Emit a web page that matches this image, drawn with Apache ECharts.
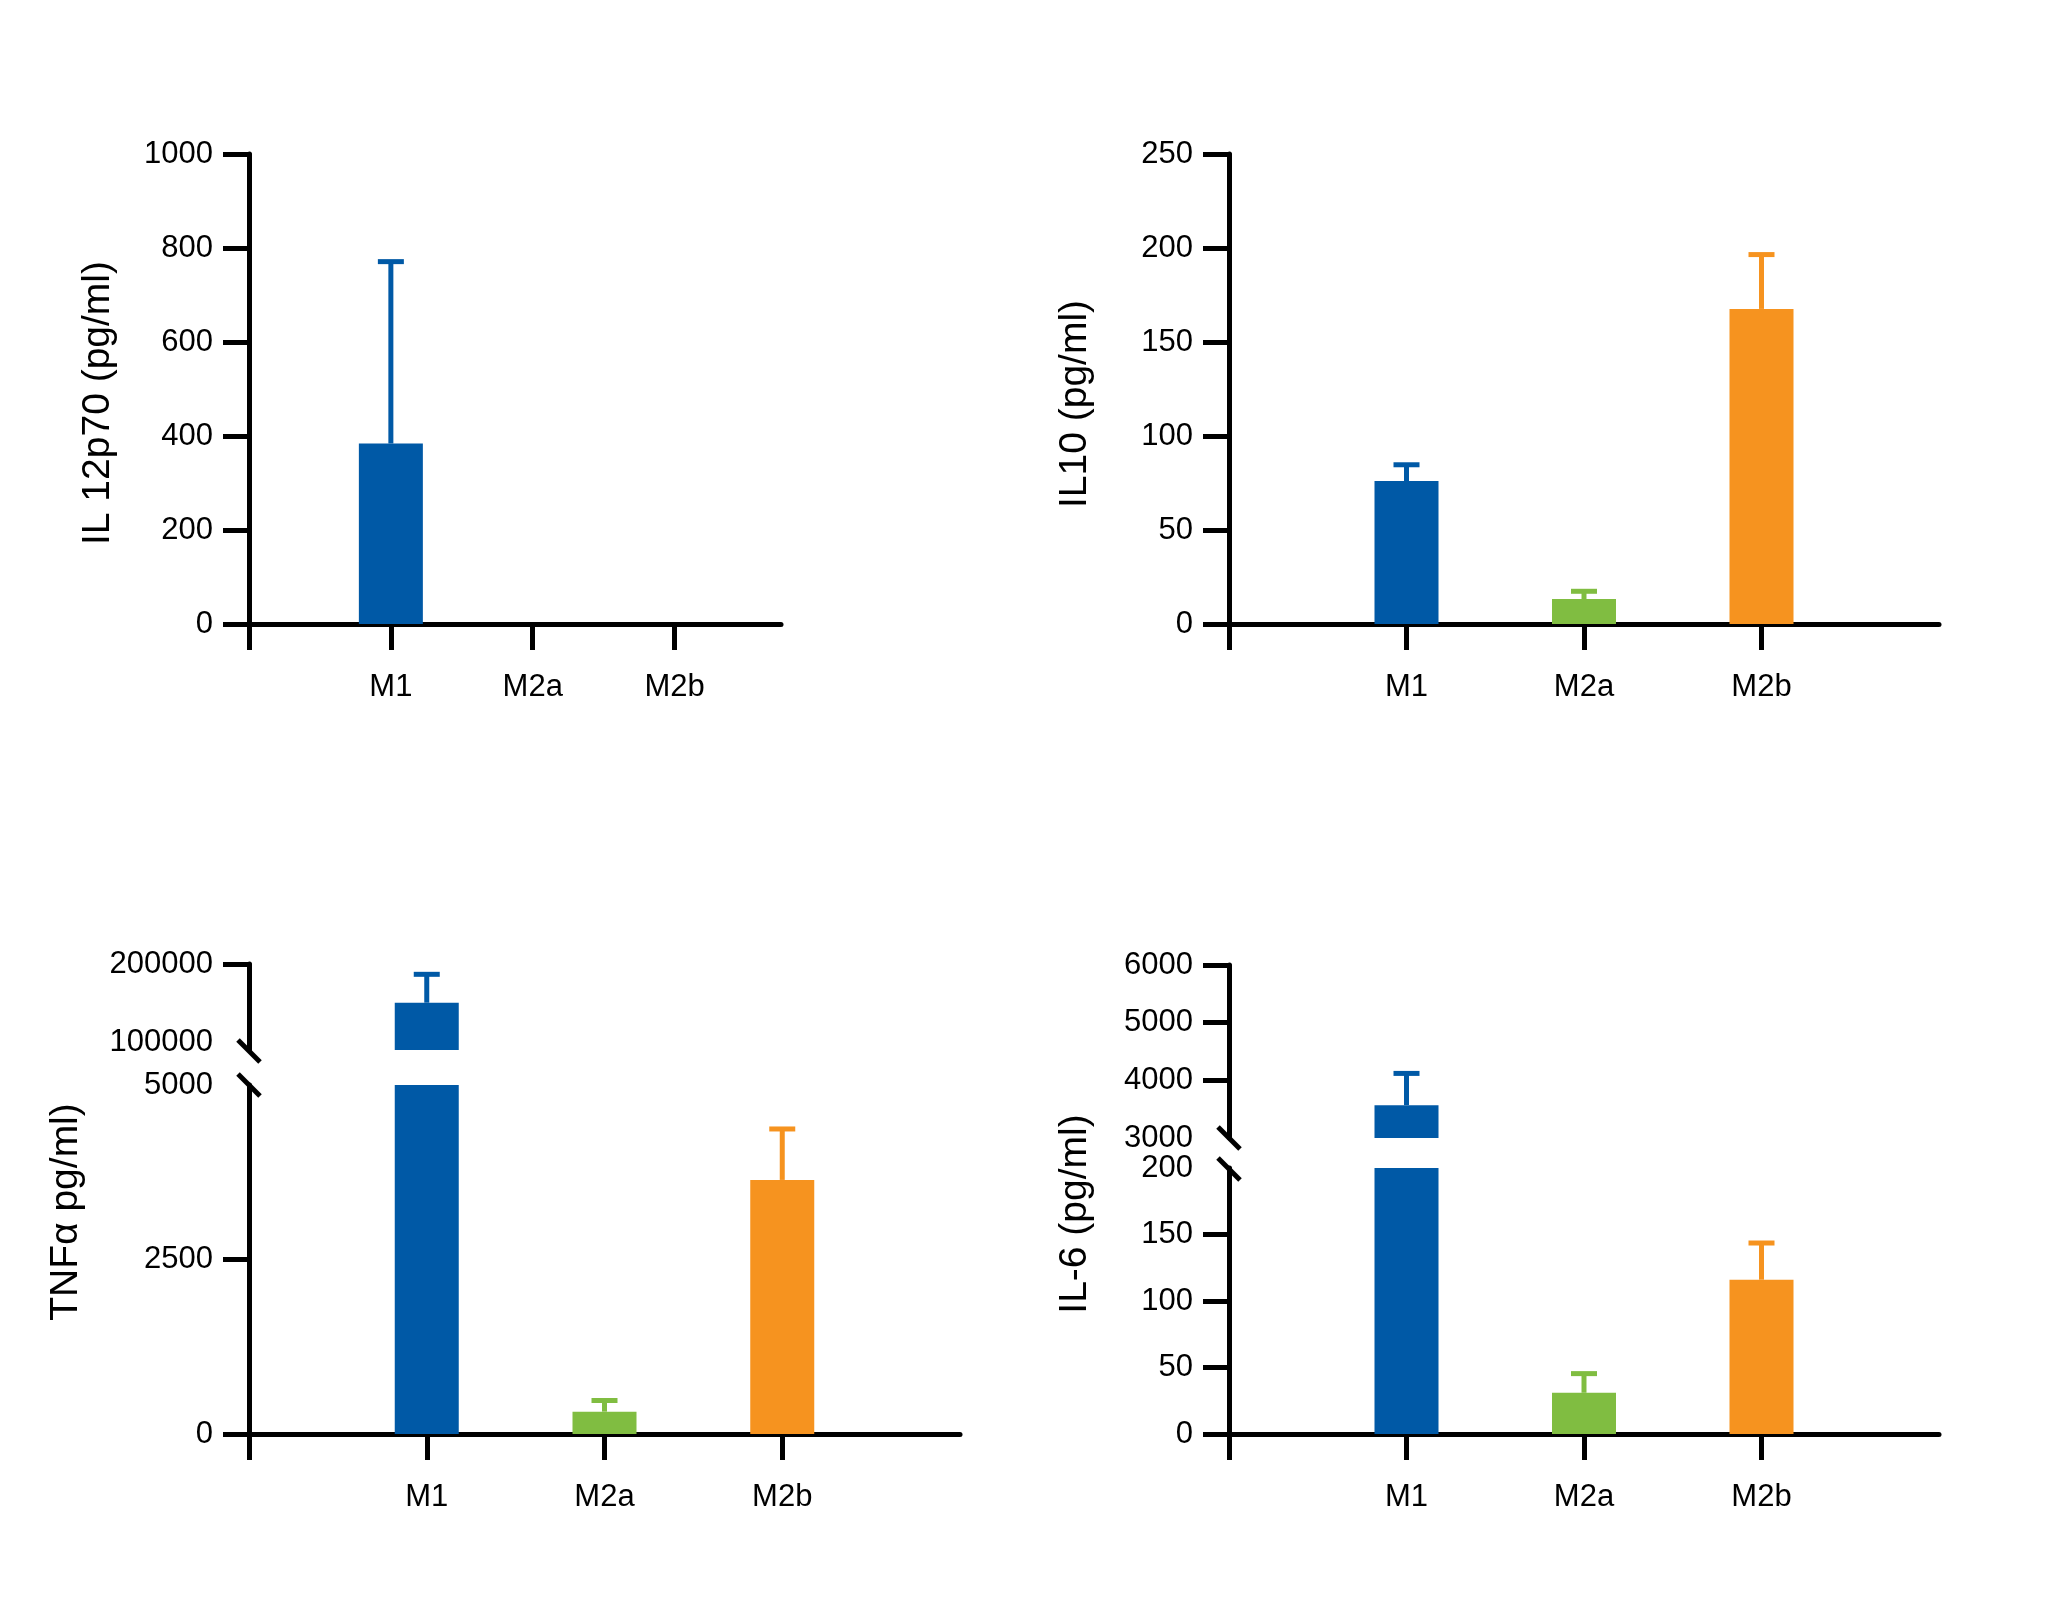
<!DOCTYPE html>
<html><head><meta charset="utf-8">
<script src="https://cdn.jsdelivr.net/npm/echarts@6/dist/echarts.min.js"></script>
<style>html,body{margin:0;padding:0;background:#fff}#c{width:2048px;height:1613px}</style>
</head><body><div id="c"></div>
<script>
// ---------- data ----------
const categories = ['M1', 'M2a', 'M2b'];
const barColors = ['#0059A6', '#80BD41', '#F6931F'];

const il12Mean = [384, 0, 0];
const il12Upper = [771, 0, 0];
const il10Mean = [76, 13.3, 167.6];
const il10Upper = [84.7, 17.4, 196.5];
const tnfMean = [155000, 320, 3640];
const tnfUpper = [188000, 480, 4370];
const il6Mean = [3570, 31, 116];
const il6Upper = [4120, 45.4, 143.6];

const il12Ticks = [0, 200, 400, 600, 800, 1000];
const il10Ticks = [0, 50, 100, 150, 200, 250];
const tnfLowTicks = [0, 2500, 5000];
const tnfHighTicks = [100000, 200000];
const il6LowTicks = [0, 50, 100, 150, 200];
const il6HighTicks = [3000, 4000, 5000, 6000];

const titles = ['IL 12p70 (pg/ml)', 'IL10 (pg/ml)', 'TNF\u03b1 pg/ml)', 'IL-6 (pg/ml)'];

// ---------- layout ----------
const FONT = "'Liberation Sans', Arial, Helvetica, sans-serif";
const LW = 5;
const grids = [
  { left: 249, top: 154, width: 532, height: 470 },   // 0 IL12
  { left: 1229, top: 154, width: 710, height: 470 },  // 1 IL10
  { left: 249, top: 964, width: 711, height: 86 },    // 2 TNF upper
  { left: 249, top: 1085, width: 711, height: 349 },  // 3 TNF lower
  { left: 1229, top: 965, width: 710, height: 173 },  // 4 IL6 upper
  { left: 1229, top: 1168, width: 710, height: 266 }  // 5 IL6 lower
];
const xMax = [3.75, 4, 4, 4, 4, 4];
const showX = [true, true, false, true, false, true];

function xAxisFor(gi) {
  return {
    type: 'value', gridIndex: gi, min: 0, max: xMax[gi], interval: 1, show: showX[gi],
    splitLine: { show: false },
    axisLine: { show: true, onZero: false, lineStyle: { color: '#000', width: LW } },
    axisTick: { show: true, length: 26, customValues: [0, 1, 2, 3], lineStyle: { color: '#000', width: LW } },
    axisLabel: {
      customValues: [1, 2, 3], margin: 48, color: '#000', fontSize: 31, fontFamily: FONT,
      formatter: v => categories[Math.round(v) - 1] || ''
    }
  };
}
function yAxisFor(gi, ticks, tickVals, shiftFirst) {
  const lab = {
    customValues: ticks, margin: 36, color: '#000', fontSize: 31, fontFamily: FONT,
    formatter: v => String(v)
  };
  if (shiftFirst) {
    lab.formatter = v => (v === ticks[0] ? '{s|' + v + '}' : String(v));
    lab.rich = { s: { fontSize: 31, fontFamily: FONT, color: '#000', padding: [0, 0, shiftFirst, 0] } };
  }
  return {
    type: 'value', gridIndex: gi, min: ticks[0], max: ticks[ticks.length - 1],
    interval: ticks[1] - ticks[0],
    splitLine: { show: false },
    axisLine: { show: true, onZero: false, lineStyle: { color: '#000', width: LW } },
    axisTick: { show: true, length: 26, customValues: tickVals, lineStyle: { color: '#000', width: LW } },
    axisLabel: lab
  };
}

function barSeries(gi, mean) {
  return {
    type: 'bar', xAxisIndex: gi, yAxisIndex: gi, barWidth: 64, clip: true, silent: true,
    data: categories.map((c, i) => ({ value: [i + 1, mean[i]], itemStyle: { color: barColors[i] } }))
  };
}
function errRender(params, api) {
  const x = api.value(0), m = api.value(1), u = api.value(2), ci = api.value(3);
  if (!(u > m)) return null;
  const cs = params.coordSys;
  const top = cs.y, bot = cs.y + cs.height;
  const p0 = api.coord([x, m]);
  const p1 = api.coord([x, u]);
  if (p0[1] < top - 0.5 || p1[1] > bot + 0.5) return null;
  const y0 = Math.min(p0[1], bot), y1 = Math.max(p1[1], top);
  const col = barColors[ci];
  const children = [{
    type: 'line', shape: { x1: p0[0], y1: y0, x2: p0[0], y2: y1 },
    style: { stroke: col, lineWidth: 5 }
  }];
  if (p1[1] >= top - 0.5) {
    children.push({ type: 'rect', shape: { x: p1[0] - 13, y: p1[1] - 2.5, width: 26, height: 5 }, style: { fill: col } });
  }
  return { type: 'group', children };
}
function errSeries(gi, mean, upper) {
  return {
    type: 'custom', xAxisIndex: gi, yAxisIndex: gi, silent: true, renderItem: errRender,
    data: categories.map((c, i) => [i + 1, mean[i], upper[i], i])
  };
}

// titles and break marks
function titleText(text, x, y) {
  return {
    type: 'text', x: x, y: y, rotation: Math.PI / 2, silent: true,
    style: { text: text, x: 0, y: 0, fill: '#000', fontSize: 39, fontFamily: FONT,
      textAlign: 'center', textVerticalAlign: 'middle', align: 'center', verticalAlign: 'middle' }
  };
}
function slash(cx, cy) {
  return { type: 'line', silent: true, shape: { x1: cx - 11, y1: cy - 11, x2: cx + 11, y2: cy + 11 },
    style: { stroke: '#000', lineWidth: LW } };
}
const g = grids;
const graphics = [
  titleText(titles[0], 98, 403),
  titleText(titles[1], 1075, 404),
  titleText(titles[2], 66, 1212),
  titleText(titles[3], 1075, 1214),
  slash(g[2].left, g[2].top + g[2].height + 1),
  slash(g[3].left, g[3].top),
  slash(g[4].left, g[4].top + g[4].height),
  slash(g[5].left, g[5].top + 1)
];

const option = {
  animation: false,
  backgroundColor: '#ffffff',
  grid: grids,
  xAxis: [0, 1, 2, 3, 4, 5].map(xAxisFor),
  yAxis: [
    yAxisFor(0, il12Ticks, il12Ticks),
    yAxisFor(1, il10Ticks, il10Ticks),
    yAxisFor(2, tnfHighTicks, tnfHighTicks.slice(1), 16),
    yAxisFor(3, tnfLowTicks, tnfLowTicks.slice(0, -1)),
    yAxisFor(4, il6HighTicks, il6HighTicks.slice(1)),
    yAxisFor(5, il6LowTicks, il6LowTicks.slice(0, -1))
  ],
  series: [
    barSeries(0, il12Mean), errSeries(0, il12Mean, il12Upper),
    barSeries(1, il10Mean), errSeries(1, il10Mean, il10Upper),
    barSeries(2, tnfMean), errSeries(2, tnfMean, tnfUpper),
    barSeries(3, tnfMean), errSeries(3, tnfMean, tnfUpper),
    barSeries(4, il6Mean), errSeries(4, il6Mean, il6Upper),
    barSeries(5, il6Mean), errSeries(5, il6Mean, il6Upper)
  ],
  graphic: graphics
};
const chart = echarts.init(document.getElementById('c'), null, { renderer: 'canvas' });
chart.setOption(option);
</script>
</body></html>
